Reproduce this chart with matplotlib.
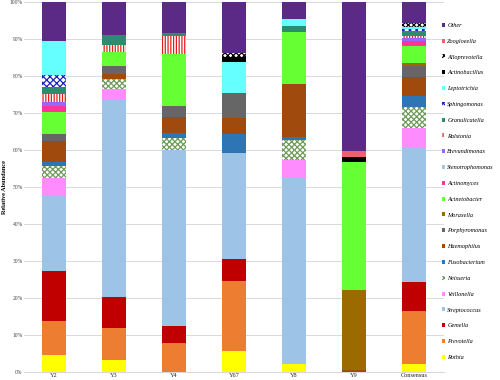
import matplotlib.pyplot as plt
import numpy as np
from matplotlib.patches import Patch

# samples on the x axis
samples = ["Y2", "Y3", "Y4", "Y67", "Y8", "Y9", "Consensus"]

# relative abundance (%) per genus, one value per sample, bottom of stack first
rothia = [4.6, 3.2, 0, 5.7, 2.2, 0, 2.1]
prevotella = [9.2, 8.7, 7.8, 18.9, 0, 0, 14.4]
gemella = [13.5, 8.4, 4.6, 5.9, 0, 0, 7.8]
streptococcus = [20.3, 53.2, 47.6, 28.6, 50.3, 0, 36.3]
veillonella = [4.9, 2.9, 0, 0, 4.9, 0, 5.2]
neisseria = [3.2, 2.8, 3.2, 0, 5.4, 0, 5.8]
fusobacterium = [1.0, 0, 1.4, 5.1, 0.8, 0, 3.0]
haemophilus = [5.7, 1.4, 4.3, 4.4, 14.3, 0.5, 5.1]
porphyromonas = [2.0, 2.0, 2.9, 6.8, 0, 0, 3.0]
moraxella = [0, 0, 0, 0, 0, 21.6, 0.9]
acinetobacter = [5.9, 3.8, 14.2, 0, 14.1, 34.6, 4.5]
actinomyces = [1.5, 0, 0, 0, 0, 0, 1.3]
stenotrophomonas = [0, 0, 0, 0, 0, 0, 0]
brevundimonas = [1.2, 0, 0, 0, 0, 0, 0.9]
ralstonia = [2.2, 1.9, 4.8, 0, 0, 0, 0.5]
granulicatella = [1.8, 2.7, 0.9, 0, 1.4, 0, 1.4]
sphingomonas = [3.2, 0, 0, 0, 0, 0, 0.5]
leptotrichia = [9.2, 0, 0, 8.3, 2.1, 0, 0.5]
actinobacillus = [0, 0, 0, 1.3, 0, 1.4, 0]
alloprevotella = [0, 0, 0, 1.1, 0, 0, 1.1]
zoogloea = [0, 0, 0, 0, 0, 1.6, 0]
other = [10.8, 9.1, 8.5, 13.9, 4.6, 40.5, 5.6]

# (name, values, color, hatch)
layers = [
    ("Rothia", rothia, "#FFFF00", None),
    ("Prevotella", prevotella, "#ED7D31", None),
    ("Gemella", gemella, "#C00000", None),
    ("Streptococcus", streptococcus, "#9DC3E6", None),
    ("Veillonella", veillonella, "#FF8CFF", None),
    ("Neisseria", neisseria, "#6E9A5A", "xxxxxx"),
    ("Fusobacterium", fusobacterium, "#2E75B6", None),
    ("Haemophilus", haemophilus, "#A04A0E", None),
    ("Porphyromonas", porphyromonas, "#666666", None),
    ("Moraxella", moraxella, "#9C6B00", None),
    ("Acinetobacter", acinetobacter, "#66FF33", None),
    ("Actinomyces", actinomyces, "#FF3399", None),
    ("Stenotrophomonas", stenotrophomonas, "#A9C4DE", None),
    ("Brevundimonas", brevundimonas, "#9966FF", None),
    ("Ralstonia", ralstonia, "#E02020", "||||||"),
    ("Granulicatella", granulicatella, "#2E8B6E", None),
    ("Sphingomonas", sphingomonas, "#2020C0", "xxxxx"),
    ("Leptotrichia", leptotrichia, "#66FFFF", None),
    ("Actinobacillus", actinobacillus, "#000000", None),
    ("Alloprevotella", alloprevotella, "#000000", "xxxxxx"),
    ("Zoogloeella", zoogloea, "#F0606E", None),
    ("Other", other, "#5B2A86", None),
]

plt.rcParams["hatch.linewidth"] = 0.9

fig = plt.figure(figsize=(5, 3.8), dpi=100)
ax = fig.add_axes([0.048, 0.021, 0.84, 0.974])

x = np.arange(len(samples))
bottom = np.zeros(len(samples))
handles = []
for name, vals, color, hatch in layers:
    vals = np.array(vals, dtype=float)
    if hatch:
        ax.bar(x, vals, 0.4, bottom=bottom, facecolor="white",
               edgecolor=color, hatch=hatch, linewidth=0, zorder=3)
        h = Patch(facecolor="white", edgecolor=color, hatch=hatch, linewidth=0)
    else:
        ax.bar(x, vals, 0.4, bottom=bottom, color=color, linewidth=0, zorder=3)
        h = Patch(facecolor=color, linewidth=0)
    bottom += vals
    handles.append((h, name))

ax.set_xlim(-0.5, len(samples) - 0.5)
ax.set_ylim(0, 100)
ax.set_yticks(np.arange(0, 101, 10))
ax.set_yticklabels([f"{v}%" for v in range(0, 101, 10)],
                   fontsize=4, family="Liberation Serif", color="#444444")
ax.set_xticks(x)
ax.set_xticklabels(samples, fontsize=4.5, family="Liberation Serif", color="#222222")
ax.tick_params(length=0, pad=1)
ax.yaxis.grid(True, color="#D9D9D9", linewidth=0.7, zorder=0)
for s in ["top", "right", "left"]:
    ax.spines[s].set_visible(False)
ax.spines["bottom"].set_color("#D9D9D9")
ax.set_ylabel("Relative Abundance", fontsize=4.5, family="Liberation Serif",
              weight="bold", labelpad=2)

handles = handles[::-1]
leg = fig.legend([h for h, _ in handles], [n for _, n in handles],
                 loc="upper left", bbox_to_anchor=(0.872, 0.955),
                 frameon=False, handlelength=0.6, handleheight=0.6,
                 handletextpad=0.3, labelspacing=1.7,
                 prop={"family": "Liberation Serif", "style": "italic", "size": 4.5})

fig.savefig("out.png", dpi=100)
